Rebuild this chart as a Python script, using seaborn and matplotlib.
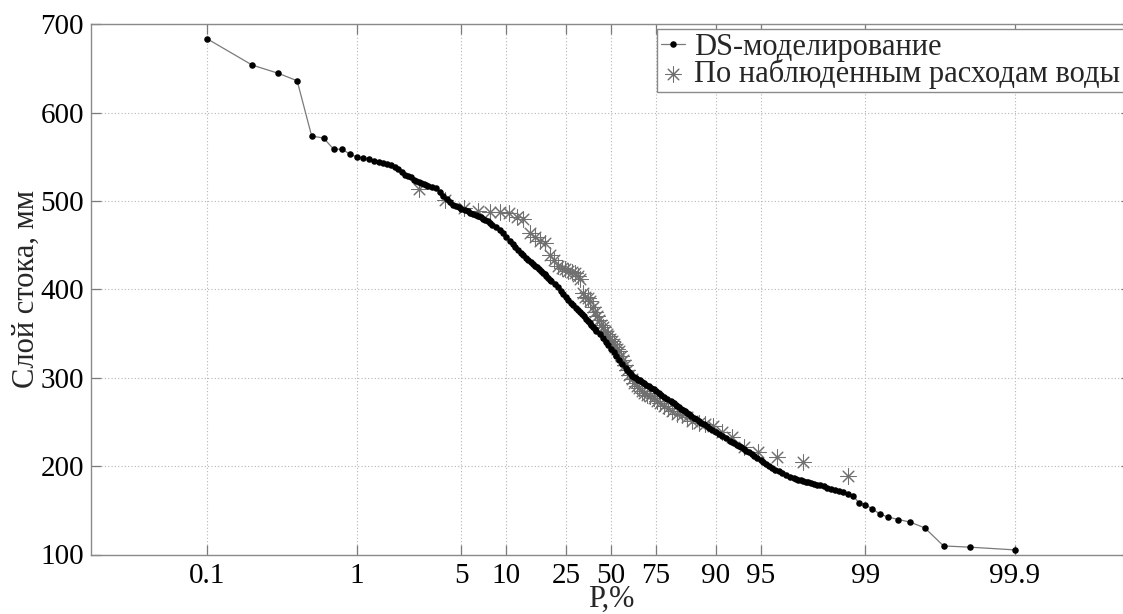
import numpy as np
import matplotlib
matplotlib.use("Agg")
import matplotlib.pyplot as plt
import seaborn as sns
from matplotlib.ticker import FixedLocator, FixedFormatter, NullLocator

# ---------------- data ----------------
ds_p = [0.1, 0.2, 0.3, 0.4, 0.5, 0.6, 0.7, 0.8, 0.9, 1.0, 1.1, 1.2, 1.3, 1.4, 1.5, 1.6, 1.7, 1.8, 1.9, 2.0,
        2.1, 2.2, 2.3, 2.4, 2.5, 2.6, 2.7, 2.8, 2.9, 3.0, 3.2, 3.4, 3.6, 3.8, 4.0, 4.2, 4.4, 4.6, 4.8, 5.0,
        5.25, 5.5, 5.75, 6.0, 6.25, 6.5, 6.75, 7.0, 7.25, 7.5, 7.75, 8.0,
        8.5, 9.0, 9.5, 10.0, 10.5, 11.0, 11.5, 12.0, 12.5, 13.0, 13.5, 14.0, 14.5, 15.0, 15.5, 16.0,
        16.5, 17.0, 17.5, 18.0, 18.5, 19.0, 19.5, 20.0,
        21, 22, 23, 24, 25, 26, 27, 28, 29, 30, 31, 32, 33, 34, 35, 36, 37, 38, 39, 40,
        42, 44, 46, 48, 50, 52, 54, 56, 58, 60,
        61, 62, 63, 64, 65, 66, 67, 68, 69, 70, 71, 72, 73, 74, 75, 76, 77, 78, 79, 80,
        80.5, 81.0, 81.5, 82.0, 82.5, 83.0, 83.5, 84.0, 84.5, 85.0, 85.5, 86.0, 86.5, 87.0, 87.5, 88.0,
        88.5, 89.0, 89.5, 90.0, 90.5, 91.0, 91.5, 92.0,
        92.25, 92.5, 92.75, 93.0, 93.25, 93.5, 93.75, 94.0, 94.25, 94.5, 94.75, 95.0,
        95.2, 95.4, 95.6, 95.8, 96.0, 96.2, 96.4, 96.6, 96.8, 97.0,
        97.1, 97.2, 97.3, 97.4, 97.5, 97.6, 97.7, 97.8, 97.9, 98.0,
        98.1, 98.2, 98.3, 98.4, 98.5, 98.6, 98.7, 98.8,
        98.9, 99.0, 99.1, 99.2, 99.3, 99.4, 99.5, 99.6, 99.7, 99.8, 99.9]
ds_q = [683.9, 654.1, 644.7, 636.3, 573.7, 571.5, 559.0, 558.7, 553.3, 550.0, 548.8, 548.0, 545.4, 544.0,
        543.1, 542.0, 540.9, 538.8, 536.5, 533.5,
        530.0, 528.0, 527.0, 524.5, 522.3, 521.3, 520.2, 519.3, 518.5, 517.7,
        516.3, 514.4, 510.0, 506.0, 502.0, 498.5, 496.0, 494.5, 493.0, 491.5,
        490.0, 488.5, 487.0, 485.5, 484.5, 483.0, 481.7, 480.0, 478.5, 477.0, 475.0, 473.5,
        470.5, 467.7, 464.0, 459.0, 454.6, 451.0, 447.8, 444.7, 441.7, 438.8, 436.0, 433.4, 431.0, 429.0,
        427.0, 425.0, 423.0, 421.0, 419.0, 417.0, 415.0, 413.0, 411.0, 409.5,
        406.0, 402.5, 398.7, 395.0, 391.5, 388.0, 384.8, 382.0, 379.0, 376.5, 374.0, 372.0, 369.5, 367.0,
        364.5, 362.0, 360.0, 357.5, 355.5, 353.5,
        349.5, 345.0, 341.0, 337.0, 333.0, 329.5, 325.0, 320.0, 316.0, 311.5,
        309.0, 306.5, 304.5, 302.5, 301.0, 299.5, 298.0, 297.0, 295.5, 294.0, 292.0, 290.5, 288.8, 287.0,
        285.0, 283.0, 281.0, 278.5, 276.0, 273.5,
        272.3, 271.0, 269.6, 268.0, 266.6, 265.0, 263.5, 262.0, 260.0, 258.5, 256.8, 255.0, 253.0, 251.0,
        249.2, 247.3, 245.5, 243.5, 241.5, 239.0, 236.5, 234.0, 231.5, 229.0,
        227.5, 226.0, 224.5, 223.0, 221.5, 220.0, 217.5, 216.0, 214.0, 212.0, 209.5, 207.0,
        205.0, 202.5, 200.0, 197.5, 195.5, 194.0, 192.0, 190.0, 188.0, 186.5,
        185.5, 184.5, 184.0, 183.2, 182.5, 181.8, 181.0, 180.0, 179.0, 178.5,
        177.0, 175.5, 174.5, 173.5, 172.0, 171.0, 168.0, 166.0,
        158.4, 156.6, 151.6, 146.0, 142.2, 139.6, 136.6, 130.1, 109.7, 108.3, 105.2]

obs_p = [2.597, 3.896, 5.195, 6.494, 7.792, 9.091, 10.390, 11.688, 12.987, 14.286, 15.584, 16.883,
         18.182, 19.481, 20.779, 22.078, 23.377, 24.675, 25.974, 27.273, 28.571, 29.870, 31.169,
         32.468, 33.766, 35.065, 36.364, 37.662, 38.961, 40.260, 41.558, 42.857, 44.156, 45.455,
         46.753, 48.052, 49.351,
         50.649, 51.948, 53.247, 54.545, 55.844, 57.143, 58.442, 59.740, 61.039, 62.338, 63.636,
         64.935, 66.234, 67.532, 68.831, 70.130, 71.429, 72.727, 74.026, 75.325, 76.623, 77.922,
         79.221, 80.519, 81.818, 83.117, 84.416, 85.714, 87.013, 88.312, 89.610, 90.909, 92.208,
         93.506, 94.805, 96.104, 97.403, 98.701]
obs_q = [513.4, 501.0, 491.8, 489.2, 488.0, 488.0, 486.2, 482.3, 479.4, 463.5, 459.0, 455.2, 452.2,
         439.0, 433.3, 427.0, 424.5, 423.0, 421.5, 420.0, 418.5, 415.5, 412.0, 395.6, 392.0, 389.9,
         387.5, 380.0, 374.0, 370.0, 365.0, 360.0, 357.0, 353.0, 350.0, 347.0, 344.0,
         341.5, 338.0, 335.0, 333.0, 330.0, 325.0, 320.0, 314.0, 309.0, 303.5, 299.0, 294.0, 290.5,
         288.0, 285.5, 283.0, 281.0, 279.5, 277.5, 274.0, 271.0, 268.0, 265.5, 262.0, 259.0, 257.5,
         255.5, 251.0, 248.5, 248.0, 245.3, 238.8, 233.2, 222.0, 215.5, 210.5, 205.0, 189.0]

x_ticks = [0.1, 1, 5, 10, 25, 50, 75, 90, 95, 99, 99.9]
x_tick_labels = ["0.1", "1", "5", "10", "25", "50", "75", "90", "95", "99", "99.9"]
y_ticks = [100, 200, 300, 400, 500, 600, 700]

label_ds = "DS-моделирование"
label_obs = "По наблюденным расходам воды"
x_label = "P,%"
y_label = "Слой стока, мм"

# ---------------- style ----------------
sns.set_style("ticks")
plt.rcParams["font.family"] = ["Liberation Serif", "DejaVu Serif"]
plt.rcParams["axes.unicode_minus"] = False


def fwd(p):
    p = np.clip(np.asarray(p, dtype=float) / 100.0, 1e-15, 1 - 1e-15)
    return np.where(p < 0.5, np.log(2 * p), -np.log(2 * (1 - p)))


def inv(z):
    z = np.clip(np.asarray(z, dtype=float), -30, 30)
    return np.where(z < 0, 0.5 * np.exp(z), 1 - 0.5 * np.exp(-z)) * 100.0


W, H = 1123, 614
fig = plt.figure(figsize=(W / 100, H / 100), dpi=100)
ax = fig.add_axes([91 / W, 1 - 554.5 / H, 1040 / W, 530 / H])

sns.lineplot(x=ds_p, y=ds_q, ax=ax, estimator=None, sort=False,
             color="#7a7a7a", linewidth=0.9, marker="o", markersize=4.7,
             markerfacecolor="black", markeredgecolor="black", markeredgewidth=0,
             label=label_ds)
sns.scatterplot(x=obs_p, y=obs_q, ax=ax, marker=(8, 2, 0), s=120,
                color="#707070", linewidth=0.75, label=label_obs)

ax.set_xscale("function", functions=(fwd, inv))
ax.set_xlim(float(inv(-8.0)), float(inv(8.0)))
ax.set_ylim(100, 700)

ax.xaxis.set_major_locator(FixedLocator(x_ticks))
ax.xaxis.set_major_formatter(FixedFormatter(x_tick_labels))
ax.xaxis.set_minor_locator(NullLocator())
ax.set_yticks(y_ticks)
ax.yaxis.set_minor_locator(NullLocator())

ax.grid(True, linestyle=(0, (1, 2)), color="#b5b5b5", linewidth=0.8)
for s in ax.spines.values():
    s.set_visible(True)
    s.set_color("#8a8a8a")
    s.set_linewidth(1.0)
ax.tick_params(axis="both", direction="in", length=7, width=0.9, color="#7a7a7a",
               top=True, right=True, labelsize=21, labelcolor="black")
ax.tick_params(axis="x", pad=6)
ax.tick_params(axis="y", pad=5)

ax.set_xlabel(x_label, fontsize=22)
ax.xaxis.set_label_coords(0.5, -0.058)
ax.set_ylabel(y_label, fontsize=22)
ax.yaxis.set_label_coords(-0.048, 0.5)

handles, labels = ax.get_legend_handles_labels()
leg = ax.legend(handles, labels, loc="upper left",
                bbox_to_anchor=(657 / W, 1 - 29 / H), bbox_transform=fig.transFigure,
                frameon=True, fancybox=False, edgecolor="#8a8a8a", framealpha=1,
                fontsize=22, handlelength=0.8, handletextpad=0.3, borderpad=0.12,
                labelspacing=-0.1, borderaxespad=0)
leg.get_frame().set_linewidth(1.0)

fig.savefig("out.png", dpi=100)
